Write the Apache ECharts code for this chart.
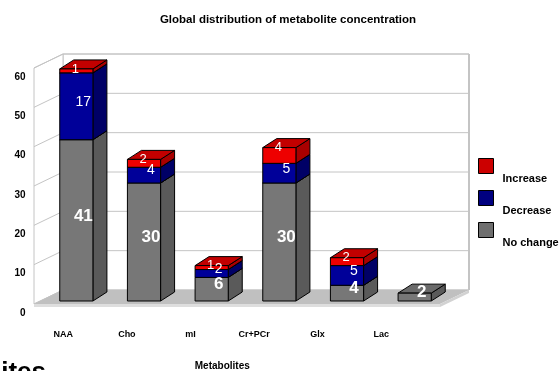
<!DOCTYPE html>
<html>
<head>
<meta charset="utf-8">
<script src="https://cdn.jsdelivr.net/npm/echarts@6/dist/echarts.min.js"></script>
<style>
  html, body { margin: 0; padding: 0; background: #fff; }
  #chart { width: 560px; height: 371px; }
</style>
</head>
<body>
<div id="chart"></div>
<script>
// Metabolites and the number of cases in each outcome
const categories = ['NAA', 'Cho', 'mI', 'Cr+PCr', 'Glx', 'Lac'];
const noChange = [41, 30, 6, 30, 4, 2];
const decrease = [17, 4, 2, 5, 5, 0];
const increase = [1, 2, 1, 4, 2, 0];
const yTicks = [0, 10, 20, 30, 40, 50, 60];

const FONT = '"Liberation Sans", Arial, sans-serif';

// face colours of the 3D columns
const looks = {
  'Increase':  { front: '#ee0000', top: '#c20000', side: '#a80000', legend: '#cc0000', font: 'normal 13px ' + FONT, atTop: true },
  'Decrease':  { front: '#000099', top: '#000080', side: '#000066', legend: '#000080', font: 'normal 14px ' + FONT, atTop: false },
  'No change': { front: '#777777', top: '#6a6a6a', side: '#5a5a5a', legend: '#6e6e6e', font: 'bold 17px ' + FONT, atTop: false }
};

// column depth and the offsets of the walls' front and back planes
const BAR_DX = 14, BAR_DY = -9;
const FRONT = [-8.5, 3], BACK = [20.5, -11];

function stackRows(values, below) {
  return values.map((v, i) => [i, below.reduce((s, arr) => s + arr[i], 0), v]);
}

function cuboidRenderer(name) {
  const look = looks[name];
  return function (params, api) {
    const i = api.value(0), base = api.value(1), val = api.value(2);
    if (!val) return null;
    const pb = api.coord([i, base]);
    const pt = api.coord([i, base + val]);
    const bw = api.size([1, 0])[0] * 0.49;
    const x0 = pb[0] - bw / 2, x1 = pb[0] + bw / 2, yb = pb[1], yt = pt[1];
    const line = { stroke: '#000', lineWidth: 1 };
    const lx = look.atTop ? pb[0] - 1 : pb[0] + BAR_DX / 2;
    const ly = look.atTop ? yt : (yb + yt) / 2 + BAR_DY / 2;
    return {
      type: 'group',
      children: [
        { type: 'polygon', shape: { points: [[x1, yb], [x1 + BAR_DX, yb + BAR_DY], [x1 + BAR_DX, yt + BAR_DY], [x1, yt]] },
          style: Object.assign({ fill: look.side }, line) },
        { type: 'polygon', shape: { points: [[x0, yt], [x1, yt], [x1 + BAR_DX, yt + BAR_DY], [x0 + BAR_DX, yt + BAR_DY]] },
          style: Object.assign({ fill: look.top }, line) },
        { type: 'rect', shape: { x: x0, y: yt, width: bw, height: yb - yt },
          style: Object.assign({ fill: look.front }, line) },
        { type: 'text', z2: 100,
          style: { text: String(val), x: lx, y: ly, align: 'center', verticalAlign: 'middle', fill: '#fff', font: look.font } }
      ]
    };
  };
}

// walls, floor and gridlines of the 3D box
function frameRenderer(params, api) {
  const band = api.size([1, 0])[0];
  const left = api.coord([0, 0])[0] - band / 2;
  const right = api.coord([categories.length - 1, 0])[0] + band / 2;
  const y0 = api.coord([0, yTicks[0]])[1];
  const yTop = api.coord([0, yTicks[yTicks.length - 1]])[1];
  const grid = { stroke: '#c4c4c4', lineWidth: 1, fill: 'none' };
  const kids = [];
  // back wall and left wall
  kids.push({ type: 'polygon', shape: { points: [[left + BACK[0], yTop + BACK[1]], [right + BACK[0], yTop + BACK[1]], [right + BACK[0], y0 + BACK[1]], [left + BACK[0], y0 + BACK[1]]] },
    style: { fill: '#fff', stroke: '#c4c4c4', lineWidth: 1 } });
  kids.push({ type: 'polygon', shape: { points: [[left + FRONT[0], yTop + FRONT[1]], [left + BACK[0], yTop + BACK[1]], [left + BACK[0], y0 + BACK[1]], [left + FRONT[0], y0 + FRONT[1]]] },
    style: { fill: '#fff', stroke: '#c4c4c4', lineWidth: 1 } });
  yTicks.forEach(t => {
    const y = api.coord([0, t])[1];
    kids.push({ type: 'polyline', shape: { points: [[left + FRONT[0], y + FRONT[1]], [left + BACK[0], y + BACK[1]], [right + BACK[0], y + BACK[1]]] }, style: grid });
  });
  // right edge of the back wall
  kids.push({ type: 'line', shape: { x1: right + BACK[0], y1: yTop + BACK[1], x2: right + BACK[0], y2: y0 + BACK[1] }, style: { stroke: '#c4c4c4', lineWidth: 2, fill: 'none' } });
  // floor slab
  const fl = [[left + FRONT[0], y0 + FRONT[1]], [right + FRONT[0], y0 + FRONT[1]], [right + BACK[0], y0 + BACK[1]], [left + BACK[0], y0 + BACK[1]]];
  kids.push({ type: 'polygon', shape: { points: fl }, style: { fill: '#c0c0c0' } });
  kids.push({ type: 'polygon', shape: { points: [fl[0], fl[1], [fl[1][0], fl[1][1] + 3], [fl[0][0], fl[0][1] + 3]] }, style: { fill: '#dedede' } });
  kids.push({ type: 'polygon', shape: { points: [fl[1], fl[2], [fl[2][0], fl[2][1] + 3], [fl[1][0], fl[1][1] + 3]] }, style: { fill: '#d2d2d2' } });
  return { type: 'group', children: kids };
}

const chart = echarts.init(document.getElementById('chart'), null, { renderer: 'canvas' });

const seriesOrder = [
  ['No change', stackRows(noChange, [])],
  ['Decrease', stackRows(decrease, [noChange])],
  ['Increase', stackRows(increase, [noChange, decrease])]
];

const boldText = size => ({ fontFamily: FONT, fontSize: size, fontWeight: 'bold', color: '#000' });

chart.setOption({
  backgroundColor: '#fff',
  animation: false,
  title: {
    text: 'Global distribution of metabolite concentration',
    left: 283, top: 9, textAlign: 'center',
    textStyle: boldText(11.5)
  },
  legend: {
    orient: 'vertical', left: 478, top: 141, padding: 0, itemGap: -18,
    itemWidth: 15, itemHeight: 15, icon: 'rect',
    data: ['Increase', 'Decrease', 'No change'].map(n => ({ name: n, itemStyle: { color: looks[n].legend, borderColor: '#000', borderWidth: 1 } })),
    formatter: name => '\n' + name,
    textStyle: Object.assign(boldText(11), { lineHeight: 25, padding: [0, 0, 0, 4] })
  },
  graphic: [{
    type: 'text', silent: true,
    style: { text: 'Metabolites', x: 46, y: 360, align: 'right', verticalAlign: 'top', fill: '#000', font: 'bold 26px ' + FONT }
  }],
  grid: [
    { left: 42.5, right: 111.5, top: 65, bottom: 70, outerBoundsMode: 'none' },
    { left: 31.5, right: 147, top: 65, bottom: 46, outerBoundsMode: 'none' },
    { left: 42.5, right: 111.5, top: 77, bottom: 58, outerBoundsMode: 'none' }
  ],
  xAxis: [
    { type: 'category', data: categories, gridIndex: 0, show: false },
    { type: 'category', data: categories, gridIndex: 1,
      axisLine: { show: false }, axisTick: { show: false },
      axisLabel: Object.assign({ margin: 5 }, boldText(9)),
      name: 'Metabolites', nameLocation: 'middle', nameGap: 36,
      nameTextStyle: boldText(10) },
    { type: 'category', data: categories, gridIndex: 2, show: false }
  ],
  yAxis: [
    { type: 'value', gridIndex: 0, min: yTicks[0], max: yTicks[yTicks.length - 1], interval: 10, show: false },
    { type: 'value', gridIndex: 1, show: false, min: 0, max: 60 },
    { type: 'value', gridIndex: 2, min: yTicks[0], max: yTicks[yTicks.length - 1], interval: 10,
      axisLine: { show: false }, axisTick: { show: false }, splitLine: { show: false },
      axisLabel: Object.assign({ margin: 17 }, boldText(10)) }
  ],
  series: [
    { type: 'custom', name: 'frame', z: 1, silent: true, xAxisIndex: 0, yAxisIndex: 0, data: [[0]], renderItem: frameRenderer }
  ].concat(seriesOrder.map(([name, rows]) => ({
    type: 'custom', name: name, z: 2, xAxisIndex: 0, yAxisIndex: 0,
    itemStyle: { color: looks[name].legend },
    encode: { x: 0, y: 2 },
    data: rows,
    renderItem: cuboidRenderer(name)
  })))
});
</script>
</body>
</html>
